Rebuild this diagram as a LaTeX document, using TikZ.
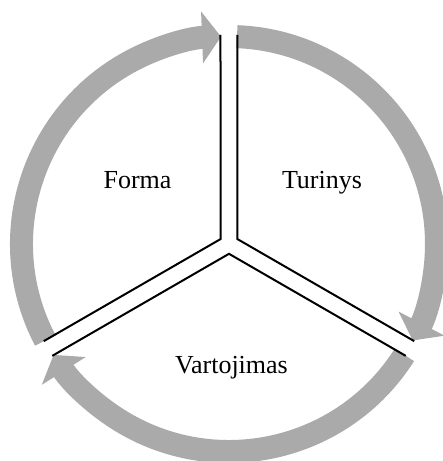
\documentclass[tikz,border=0pt]{standalone}
\usepackage{fontspec}
\setmainfont{Liberation Serif}
\usetikzlibrary{arrows.meta,calc}
\definecolor{bandgray}{RGB}{170,170,170}
\begin{document}
\begin{tikzpicture}[
    x=0.5pt,y=0.5pt,
    cyclearc/.style={draw=bandgray,line width=11.5pt,-{Triangle[length=9.5pt,width=25.5pt]}},
    divider/.style={draw,line width=1pt,line join=miter},
    every node/.style={font=\fontsize{13pt}{15pt}\selectfont,anchor=base}
]
\useasboundingbox (-229,-217) rectangle (214,244);

\draw[cyclearc] (87.8:207.5) arc[start angle=87.8,end angle=-27.7,radius=207.5];
\draw[cyclearc] (-32.3:207.5) arc[start angle=-32.3,end angle=-147.7,radius=207.5];
\draw[cyclearc] (207.7:207.5) arc[start angle=207.7,end angle=92.2,radius=207.5];

\foreach \a in {90,210,330}
  \draw[divider] ($(\a:209)+(\a+90:8.5)$) -- (\a+60:9.8) -- ($(\a+120:209)+(\a+30:8.5)$);

\node (forma) at (-91.5,55) {Forma};
\node (turinys) at (93,55) {Turinys};
\node (vartojimas) at (2.5,-129) {Vartojimas};
\end{tikzpicture}
\end{document}
